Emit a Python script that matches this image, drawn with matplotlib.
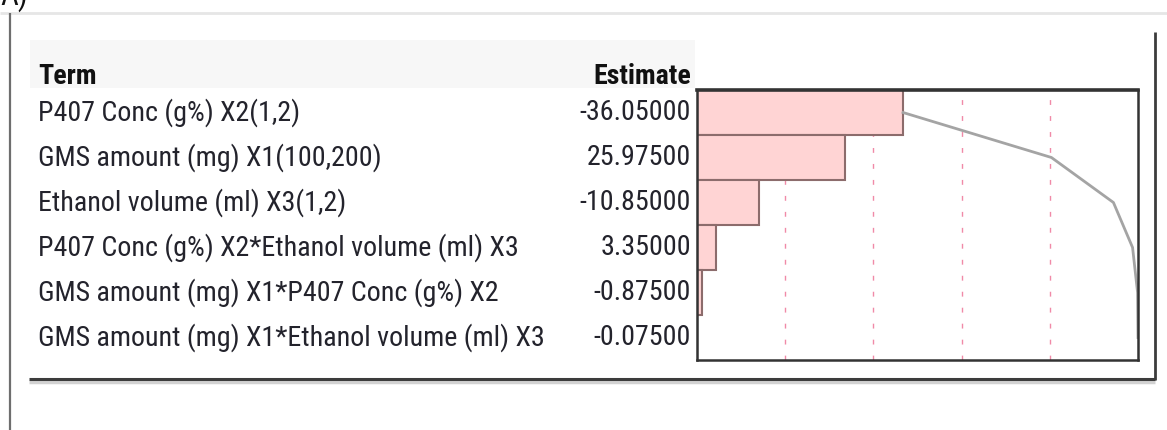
import os
import matplotlib
matplotlib.use("Agg")
import matplotlib.pyplot as plt
import matplotlib.font_manager as fm
from matplotlib.lines import Line2D
from matplotlib.patches import Rectangle
from matplotlib.transforms import blended_transform_factory
import numpy as np

# parameter estimates, sorted by magnitude
terms = [
    "P407 Conc (g%) X2(1,2)",
    "GMS amount (mg) X1(100,200)",
    "Ethanol volume (ml) X3(1,2)",
    "P407 Conc (g%) X2*Ethanol volume (ml) X3",
    "GMS amount (mg) X1*P407 Conc (g%) X2",
    "GMS amount (mg) X1*Ethanol volume (ml) X3",
]
estimates = [-36.05, 25.975, -10.85, 3.35, -0.875, -0.075]


def narrow_faces():
    """Return (regular, bold) FontProperties for the narrowest sans face found."""
    files = [f.fname for f in fm.fontManager.ttflist]
    wanted = [
        ("LiberationSansNarrow-Regular", "LiberationSansNarrow-Bold"),
        ("NotoSans-ExtraCondensed.", "NotoSans-ExtraCondensedBold."),
        ("RobotoCondensed-Regular", "RobotoCondensed-Bold"),
    ]
    for reg, bold in wanted:
        r = [f for f in files if os.path.basename(f).startswith(reg)]
        b = [f for f in files if os.path.basename(f).startswith(bold)]
        if r and b:
            return fm.FontProperties(fname=r[0]), fm.FontProperties(fname=b[0])
    names = {f.name for f in fm.fontManager.ttflist}
    fam = "Roboto Condensed" if "Roboto Condensed" in names else "Liberation Sans"
    return (fm.FontProperties(family=fam),
            fm.FontProperties(family=fam, weight="bold"))


regular, bold = narrow_faces()

W, H = 1167, 430
fig = plt.figure(figsize=(W / 100, H / 100), dpi=100)


def fx(px):
    return px / W


def fy(py):
    return 1 - py / H


# pareto plot box
left, right, top, bottom = 697, 1138, 90, 360
ax = fig.add_axes([fx(left), fy(bottom), fx(right) - fx(left), (bottom - top) / H])

mag = np.abs(estimates)
total = mag.sum()
rows = np.arange(len(terms))

ax.barh(rows, mag, height=1.0, color="#ffd4d4", edgecolor="#8c6c6c", linewidth=1.5, zorder=2)
for frac in [0.2, 0.4, 0.6, 0.8]:
    ax.axvline(frac * total, color="#f08aa8", linewidth=1.0, linestyle=(0, (3.5, 8)), zorder=1)
ax.plot(np.cumsum(mag), rows, color="#a4a4a4", linewidth=2.0, zorder=3)

ax.set_xlim(0, total)
ax.set_ylim(len(terms) - 0.5, -0.5)
ax.set_xticks([])
ax.set_yticks([])
for side, sp in ax.spines.items():
    sp.set_color("#333333")
    sp.set_linewidth(2.6 if side == "top" else 1.8)
    sp.set_zorder(4)

# table text, rows tied to the bar axis
row_tf = blended_transform_factory(fig.transFigure, ax.transData)
renderer = fig.canvas.get_renderer()

probe = fig.text(0, 0, terms[-1], fontproperties=regular, fontsize=20)
w = probe.get_window_extent(renderer).width
probe.remove()
fs = 20 * (545 - 38) / w

txt_color = "#23232c"
for i, (t, v) in enumerate(zip(terms, estimates)):
    fig.text(fx(38), i, t, transform=row_tf, fontproperties=regular, fontsize=fs,
             ha="left", va="center", color=txt_color)
    fig.text(fx(691), i, f"{v:.5f}", transform=row_tf, fontproperties=regular, fontsize=fs,
             ha="right", va="center", color=txt_color)

fig.text(fx(38), fy(84), "Term", fontproperties=bold, fontsize=fs,
         ha="left", va="baseline", color="#111111")
fig.text(fx(691), fy(84), "Estimate", fontproperties=bold, fontsize=fs,
         ha="right", va="baseline", color="#111111")

# header shading
fig.add_artist(Rectangle((fx(30), fy(88)), fx(695) - fx(30), (88 - 40) / H,
                         transform=fig.transFigure, facecolor="#f7f7f7", edgecolor="none", zorder=0))

# report frame
frame = dict(transform=fig.transFigure, solid_capstyle="butt")
fig.add_artist(Line2D([fx(0), fx(W)], [fy(13), fy(13)], color="#e6e6e6", linewidth=2, **frame))
fig.add_artist(Line2D([fx(10), fx(10)], [fy(13), fy(H)], color="#6e6e6e", linewidth=1.6, **frame))
fig.add_artist(Line2D([fx(29), fx(1155)], [fy(382), fy(382)], color="#d2d2d2", linewidth=2.5, **frame))
fig.add_artist(Line2D([fx(29), fx(1155)], [fy(379), fy(379)], color="#3c3c3c", linewidth=2.2, **frame))
fig.add_artist(Line2D([fx(1155), fx(1155)], [fy(32), fy(380)], color="#3c3c3c", linewidth=2.0, **frame))

# panel caption, mostly cut off by the top edge
fig.text(fx(0), fy(5), "A)", fontproperties=regular, fontsize=fs * 1.1,
         ha="left", va="baseline", color="#111111")

fig.savefig("out.png", dpi=100, facecolor="white")
